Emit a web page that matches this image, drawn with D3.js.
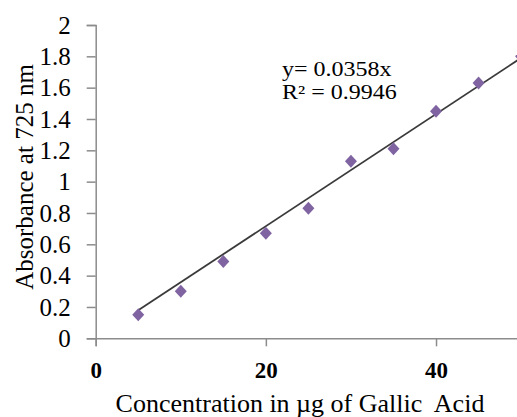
<!DOCTYPE html>
<html>
<head>
<meta charset="utf-8">
<script src="https://cdn.jsdelivr.net/npm/d3@7"></script>
<style>
  body { margin: 0; background: #fff; }
  svg { display: block; }
  text { font-family: "Liberation Serif", "Times New Roman", serif; fill: #000; }
</style>
</head>
<body>
<div id="chart_area"><svg width="517" height="417"></svg></div>
<script>
// gallic acid calibration
var concentration = [5, 10, 15, 20, 25, 30, 35, 40, 45, 50]
var absorbance = [0.15, 0.30, 0.49, 0.67, 0.83, 1.13, 1.21, 1.45, 1.63, 1.80]
var slope = 0.0358
var equation_lines = ["y= 0.0358x", "R\u00b2 = 0.9946"]
var y_ticks = [0, 0.2, 0.4, 0.6, 0.8, 1, 1.2, 1.4, 1.6, 1.8, 2]
var y_tick_labels = ["0", "0.2", "0.4", "0.6", "0.8", "1", "1.2", "1.4", "1.6", "1.8", "2"]
var x_ticks = [0, 20, 40]
var x_tick_labels = ["0", "20", "40"]

var svg = d3.select("#chart_area").select("svg")

var x = d3.scaleLinear().domain([0, 50]).range([95.7, 521.1])
var y = d3.scaleLinear().domain([0, 2]).range([338.3, 25])

var axis_color = "#8c8c8c"

// y axis
var gy = svg.append("g")
  .attr("transform", `translate(${x(0)},0)`)
  .call(d3.axisLeft(y)
    .tickValues(y_ticks)
    .tickSize(9)
    .tickPadding(16)
    .tickFormat((d, i) => y_tick_labels[i]))
gy.select(".domain").attr("stroke", axis_color).attr("stroke-width", 1.5)
gy.selectAll(".tick line").attr("stroke", axis_color).attr("stroke-width", 1.5)
gy.selectAll(".tick text")
  .attr("font-family", "Liberation Serif")
  .attr("font-size", 25)
  .attr("dy", "0.33em")

// x axis
var gx = svg.append("g")
  .attr("transform", `translate(0,${y(0)})`)
  .call(d3.axisBottom(x)
    .tickValues(x_ticks)
    .tickSize(8)
    .tickPadding(20)
    .tickFormat((d, i) => x_tick_labels[i]))
gx.select(".domain").attr("stroke", axis_color).attr("stroke-width", 1.5)
gx.selectAll(".tick line").attr("stroke", axis_color).attr("stroke-width", 1.5)
gx.selectAll(".tick text")
  .attr("font-family", "Liberation Serif")
  .attr("font-size", 23)
  .attr("font-weight", "bold")
  .attr("dy", "0.5em")

// trendline
var x_ext = d3.extent(concentration)
svg.append("line")
  .attr("x1", x(x_ext[0]))
  .attr("y1", y(slope * x_ext[0]))
  .attr("x2", x(x_ext[1]))
  .attr("y2", y(slope * x_ext[1]))
  .attr("stroke", "#3a3a3a")
  .attr("stroke-width", 1.8)

// markers
svg.selectAll(".pt")
  .data(concentration)
  .enter().append("path")
  .attr("class", "pt")
  .attr("d", "M0,-6.5L6,0L0,6.5L-6,0Z")
  .attr("fill", "#8064a2")
  .attr("transform", (d, i) => `translate(${x(d)},${y(absorbance[i])})`)

// equation (the source glyphs look stretched sideways)
svg.append("g").selectAll("text")
  .data(equation_lines)
  .enter().append("text")
  .attr("transform", (d, i) => `translate(282,${76 + i * 23}) scale(1.2,1)`)
  .attr("font-size", 20)
  .text(d => d)

// axis titles
svg.append("text")
  .attr("transform", "translate(33,177) rotate(-90)")
  .attr("text-anchor", "middle")
  .attr("font-size", 25)
  .text("Absorbance at 725 nm")

svg.append("text")
  .attr("x", 300)
  .attr("y", 412)
  .attr("text-anchor", "middle")
  .attr("font-size", 26)
  .style("white-space", "pre")
  .text("Concentration in \u00b5g of Gallic  Acid")
</script>
</body>
</html>
